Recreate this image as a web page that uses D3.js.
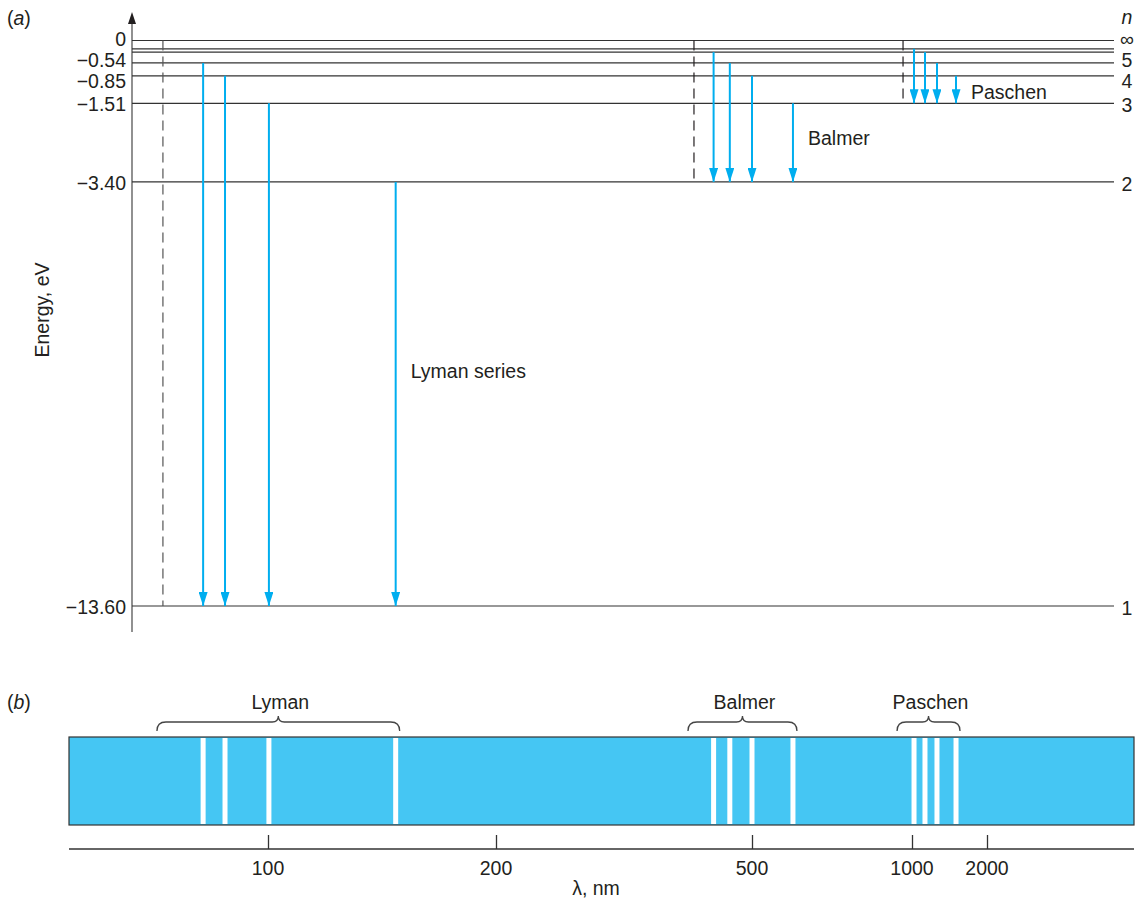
<!DOCTYPE html>
<html>
<head>
<meta charset="utf-8">
<script src="https://cdn.jsdelivr.net/npm/d3@7"></script>
<style>
  body { margin: 0; background: #fff; }
  svg { display: block; font-family: "Liberation Sans", Arial, sans-serif; }
  text { fill: #231f20; }
</style>
</head>
<body>
<div id="chart"></div>
<script>
// energy levels of hydrogen
const levelN = ["1", "2", "3", "4", "5", "6", "7", "∞"];
const levelE = [-13.60, -3.40, -1.51, -0.85, -0.54, -0.28, -0.20, 0];
const levelTick = ["−13.60", "−3.40", "−1.51", "−0.85", "−0.54", "", "", "0"];
const levelTag = ["1", "2", "3", "4", "5", "", "", "∞"];

// wavelength axis (schematic, broken scale)
const lamKnots = [50, 100, 200, 500, 1000, 2000, 5000];
const lamTicks = [100, 200, 500, 1000, 2000];

// series
const seriesNames = ["Lyman", "Balmer", "Paschen"];
const seriesLabels = ["Lyman series", "Balmer", "Paschen"];
const seriesLabelE = [-7.95, -2.34, -1.24];
const seriesTo = [1, 2, 3];
const seriesLimit = [73.6, 432, 972];
const lymanLam = [83.7, 89.2, 100.4, 156];
const lymanFrom = [5, 4, 3, 2];
const balmerLam = [455, 474, 500, 628];
const balmerFrom = [6, 5, 4, 3];
const paschenLam = [1027, 1173, 1333, 1587];
const paschenFrom = [7, 6, 5, 4];

const lamLists = [lymanLam, balmerLam, paschenLam];
const fromLists = [lymanFrom, balmerFrom, paschenFrom];

const width = 1138, height = 903;
const cyan = "#00aeef";
const ink = "#231f20";
const fs = "19.5px";

const svg = d3.select("#chart").append("svg")
  .attr("width", width)
  .attr("height", height);

const x = d3.scaleLinear()
  .domain(lamKnots)
  .range([69, 268, 496, 752, 912, 987, 1134]);

const y = d3.scaleLinear()
  .domain([-13.6, 0])
  .range([606, 40.5]);

const energyOf = n => levelE[n - 1];

// arrow head, drawn along +x so orient=auto points it down the line
svg.append("defs").append("marker")
  .attr("id", "head")
  .attr("viewBox", "0 0 14 9")
  .attr("refX", 14).attr("refY", 4.5)
  .attr("markerWidth", 14).attr("markerHeight", 9)
  .attr("markerUnits", "userSpaceOnUse")
  .attr("orient", "auto")
  .append("path")
  .attr("d", "M0,0 L14,4.5 L0,9 Z")
  .attr("fill", cyan);

// ---------- panel (a)
const a = svg.append("g");

a.append("text").attr("x", 7).attr("y", 25).style("font-size", fs)
  .html('(<tspan font-style="italic">a</tspan>)');

// axis spine with arrow
a.append("line")
  .attr("x1", 132).attr("x2", 132)
  .attr("y1", 22).attr("y2", 632)
  .attr("stroke", "#555").attr("stroke-width", 1.3);
a.append("path")
  .attr("d", "M128,24 L132,12 L136,24 Z")
  .attr("fill", ink);

// levels
const levels = levelE.map((e, i) => ({ e, tick: levelTick[i], tag: levelTag[i] }));

a.selectAll("line.level")
  .data(levels)
  .enter().append("line")
  .attr("class", "level")
  .attr("x1", 132).attr("x2", 1114)
  .attr("y1", d => y(d.e)).attr("y2", d => y(d.e))
  .attr("stroke", "#333").attr("stroke-width", 1.2);

// the top labels are crowded, so spread them a little
const nudge = { "−0.54": -3, "−0.85": 5, "0": -2 };
a.selectAll("text.tick")
  .data(levels.filter(d => d.tick))
  .enter().append("text")
  .attr("class", "tick")
  .attr("x", 126)
  .attr("y", d => y(d.e) + (nudge[d.tick] ?? 1))
  .attr("dy", "0.36em")
  .style("text-anchor", "end")
  .style("font-size", fs)
  .text(d => d.tick);

const tagNudge = { "5": -3, "4": 5, "∞": -2 };
a.selectAll("text.tag")
  .data(levels.filter(d => d.tag))
  .enter().append("text")
  .attr("class", "tag")
  .attr("x", 1127)
  .attr("y", d => y(d.e) + (tagNudge[d.tag] ?? 2))
  .attr("dy", "0.36em")
  .style("text-anchor", "middle")
  .style("font-size", fs)
  .text(d => d.tag);

a.append("text").attr("x", 1127).attr("y", 24)
  .style("text-anchor", "middle").style("font-size", fs)
  .style("font-style", "italic").text("n");

a.append("text")
  .attr("transform", "translate(49,310) rotate(-90)")
  .style("text-anchor", "middle").style("font-size", fs)
  .text("Energy, eV");

// series
seriesNames.forEach((name, s) => {
  const g = a.append("g").attr("class", "series " + name);
  const toE = energyOf(seriesTo[s]);
  g.append("line")
    .attr("x1", x(seriesLimit[s])).attr("x2", x(seriesLimit[s]))
    .attr("y1", y(0)).attr("y2", y(toE))
    .attr("stroke", s === 0 ? "#555" : ink)
    .attr("stroke-width", 1.2)
    .attr("stroke-dasharray", "10,6");

  const trans = lamLists[s].map((lam, i) => ({ lam, from: fromLists[s][i] }));
  g.selectAll("line.arrow")
    .data(trans)
    .enter().append("line")
    .attr("class", "arrow")
    .attr("x1", d => x(d.lam)).attr("x2", d => x(d.lam))
    .attr("y1", d => y(energyOf(d.from)))
    .attr("y2", y(toE))
    .attr("stroke", cyan).attr("stroke-width", 2)
    .attr("marker-end", "url(#head)");

  g.append("text")
    .attr("x", x(d3.max(lamLists[s])) + 15)
    .attr("y", y(seriesLabelE[s]))
    .attr("dy", "0.36em")
    .style("font-size", fs)
    .text(seriesLabels[s]);
});

// ---------- panel (b)
const b = svg.append("g");
const specTop = 737, specBot = 825;

b.append("text").attr("x", 7).attr("y", 709).style("font-size", fs)
  .html('(<tspan font-style="italic">b</tspan>)');

b.append("rect")
  .attr("x", x.range()[0]).attr("y", specTop)
  .attr("width", x.range()[x.range().length - 1] - x.range()[0])
  .attr("height", specBot - specTop)
  .attr("fill", "#45c6f3")
  .attr("stroke", "#333").attr("stroke-width", 1.2);

const allLines = d3.merge(lamLists);
b.selectAll("rect.line")
  .data(allLines)
  .enter().append("rect")
  .attr("class", "line")
  .attr("x", d => x(d) - 2.5).attr("width", 5)
  .attr("y", specTop + 1).attr("height", specBot - specTop - 2)
  .attr("fill", "#fff");

// braces
const braceY = 722;
const brace = (x0, x1) => {
  const xm = (x0 + x1) / 2;
  return `M${x0},${braceY + 9} Q${x0},${braceY} ${x0 + 9},${braceY} ` +
    `L${xm - 6},${braceY} Q${xm},${braceY} ${xm},${braceY - 6} ` +
    `Q${xm},${braceY} ${xm + 6},${braceY} L${x1 - 9},${braceY} ` +
    `Q${x1},${braceY} ${x1},${braceY + 9}`;
};
seriesNames.forEach((name, s) => {
  const x0 = x(seriesLimit[s]) - 6;
  const x1 = x(d3.max(lamLists[s])) + 4;
  b.append("path")
    .attr("d", brace(x0, x1))
    .attr("fill", "none").attr("stroke", "#444").attr("stroke-width", 1.3);
  b.append("text")
    .attr("x", (x0 + x1) / 2 + 2).attr("y", 709)
    .style("text-anchor", "middle").style("font-size", fs)
    .text(name);
});

// wavelength axis
const xAxis = d3.axisTop(x)
  .tickValues(lamTicks)
  .tickSize(14)
  .tickFormat("");
const ax = b.append("g")
  .attr("transform", "translate(0,849)")
  .call(xAxis);
ax.select(".domain").attr("stroke", "#333").attr("stroke-width", 1.3)
  .attr("d", `M${x.range()[0]},0H${x.range()[x.range().length - 1]}`);
ax.selectAll(".tick line").attr("stroke", "#333").attr("stroke-width", 1.3);

b.selectAll("text.lam")
  .data(lamTicks)
  .enter().append("text")
  .attr("class", "lam")
  .attr("x", d => x(d)).attr("y", 875)
  .style("text-anchor", "middle").style("font-size", fs)
  .text(d => d);

b.append("text")
  .attr("x", 596).attr("y", 895)
  .style("text-anchor", "middle").style("font-size", fs)
  .text("λ, nm");
</script>
</body>
</html>
